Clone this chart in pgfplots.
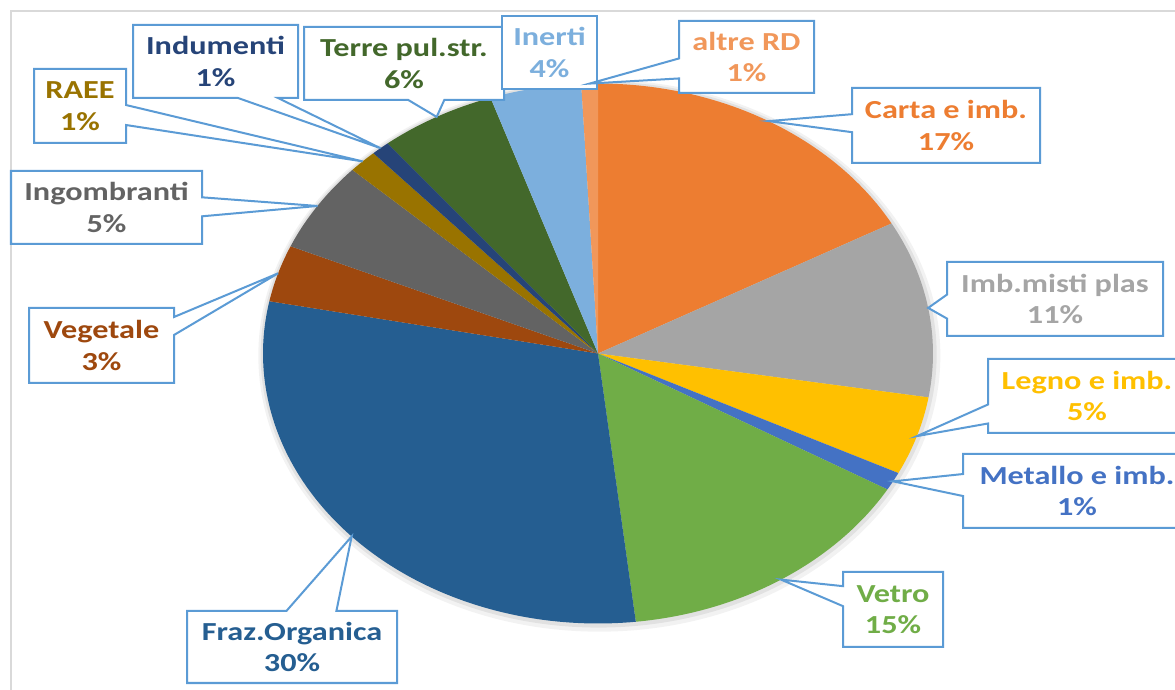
\documentclass[border=0pt]{standalone}
\usepackage{pgfplots}
\pgfplotsset{compat=1.18}
\usepackage{pgfplotstable}
\usepackage{fontspec}
\setmainfont{Carlito}[FakeStretch=1.24]
\usetikzlibrary{shapes.callouts}

% Excel palette
\definecolor{s0}{HTML}{ED7D31}
\definecolor{s1}{HTML}{A5A5A5}
\definecolor{s2}{HTML}{FFC000}
\definecolor{s3}{HTML}{4472C4}
\definecolor{s4}{HTML}{70AD47}
\definecolor{s5}{HTML}{255E91}
\definecolor{s6}{HTML}{9E480E}
\definecolor{s7}{HTML}{636363}
\definecolor{s8}{HTML}{997300}
\definecolor{s9}{HTML}{264478}
\definecolor{s10}{HTML}{43682B}
\definecolor{s11}{HTML}{7CAFDD}
\definecolor{s12}{HTML}{F1975A}
\definecolor{boxblue}{HTML}{5B9BD5}
\definecolor{framegray}{HTML}{D9D9D9}

% slices clockwise from 12 o'clock
\pgfplotstableread[col sep=comma]{
name,value
Carta e imb.,17.0
Imb.misti plas,10.6
Legno e imb.,4.7
Metallo e imb.,1.1
Vetro,14.8
Fraz.Organica,29.9
Vegetale,3.4
Ingombranti,5.4
RAEE,1.4
Indumenti,0.9
Terre pul.str.,5.6
Inerti,4.4
altre RD,0.8
}\piedata

\def\rx{335bp}
\def\ry{270bp}

% label box: idx, x0, y0, x1, y1 (pixels from top left), shape options
\newcommand\lab[6]{%
  \node[#6, draw=boxblue, line width=2bp, fill=white, inner sep=0pt,
    minimum width={(#4-#2)*1bp}, minimum height={(#5-#3)*1bp},
    align=center, text=s#1, font=\bfseries\fontsize{26bp}{31.5bp}\selectfont]
    at ({(#2+#4)/2*1bp},{(690-(#3+#5)/2)*1bp})
    {\csname nm#1\endcsname\\\csname pc#1\endcsname\%};}

\begin{document}
\begin{tikzpicture}
% cumulative angles
\def\total{0}
\pgfplotsforeachungrouped \i in {0,...,12}{%
  \pgfplotstablegetelem{\i}{value}\of\piedata
  \pgfmathsetmacro\total{\total+\pgfplotsretval}}
\def\acc{0}
\pgfplotsforeachungrouped \i in {0,...,12}{%
  \pgfplotstablegetelem{\i}{value}\of\piedata
  \let\val\pgfplotsretval
  \pgfmathsetmacro\aa{\acc/\total*360}
  \pgfmathsetmacro\acc{\acc+\val}
  \pgfmathsetmacro\bb{\acc/\total*360}
  \pgfmathtruncatemacro\pc{round(\val/\total*100)}
  \expandafter\xdef\csname st\i\endcsname{\aa}
  \expandafter\xdef\csname en\i\endcsname{\bb}
  \expandafter\xdef\csname pc\i\endcsname{\pc}
  \pgfplotstablegetelem{\i}{name}\of\piedata
  \expandafter\xdef\csname nm\i\endcsname{\pgfplotsretval}}

\draw[framegray, line width=1.5bp] (11bp,0) -- (11bp,679bp) -- (1175bp,679bp);

\begin{axis}[hide axis, x=\rx, y=\ry, xmin=-1, xmax=1, ymin=-1, ymax=1,
  anchor=origin, at={(598bp,336.5bp)}, clip=false]
  \fill[black, opacity=0.05] (axis cs:0.004,-0.008) ellipse [x radius=341bp, y radius=276bp];
  \fill[black, opacity=0.07] (axis cs:0.002,-0.004) ellipse [x radius=338bp, y radius=273bp];
  \pgfplotsinvokeforeach{0,...,12}{
    \fill[s#1] (axis cs:0,0)
      -- (axis cs:{sin(\csname st#1\endcsname)},{cos(\csname st#1\endcsname)})
      arc[start angle={90-\csname st#1\endcsname}, end angle={90-\csname en#1\endcsname},
          x radius=\rx, y radius=\ry] -- cycle;
    \coordinate (p#1) at (axis cs:{sin((\csname st#1\endcsname+\csname en#1\endcsname)/2)},
                                  {cos((\csname st#1\endcsname+\csname en#1\endcsname)/2)});
  }
\end{axis}

\lab{0}{852}{88}{1040}{163}{rectangle callout, callout absolute pointer={(p0)}, callout pointer width=18bp}
\lab{1}{947}{262}{1163}{336}{rectangle callout, callout absolute pointer={(p1)}, callout pointer width=24bp}
\lab{2}{988}{359}{1186}{433}{rectangle callout, callout absolute pointer={(p2)}, callout pointer width=19bp}
\lab{3}{963}{454}{1191}{528}{rectangle callout, callout absolute pointer={(p3)}, callout pointer width=22bp}
\lab{4}{843}{572}{943}{647}{rectangle callout, callout absolute pointer={(p4)}, callout pointer width=20bp}
\lab{5}{187}{611}{397}{683}{rectangle callout, callout absolute pointer={(p5)}, callout pointer width=50bp}
\lab{6}{29}{308}{174}{383}{rectangle callout, callout absolute pointer={(p6)}, callout pointer width=18bp}
\lab{7}{11}{171}{202}{244}{rectangle callout, callout absolute pointer={(p7)}, callout pointer width=19bp}
\lab{8}{34}{69}{126}{143}{rectangle callout, callout absolute pointer={(p8)}, callout pointer width=20bp}
\lab{9}{133}{25}{298}{98}{rectangle callout, callout absolute pointer={(p9)}, callout pointer width=40bp}
\lab{10}{304}{27}{504}{100}{rectangle callout, callout absolute pointer={(p10)}, callout pointer width=36bp}
\lab{11}{502}{16}{597}{89}{rectangle}
\lab{12}{679}{21}{814}{93}{rectangle callout, callout absolute pointer={(p12)}, callout pointer width=20bp}

\pgfresetboundingbox
\path[use as bounding box] (0,0) rectangle (1175bp,690bp);
\end{tikzpicture}
\end{document}
